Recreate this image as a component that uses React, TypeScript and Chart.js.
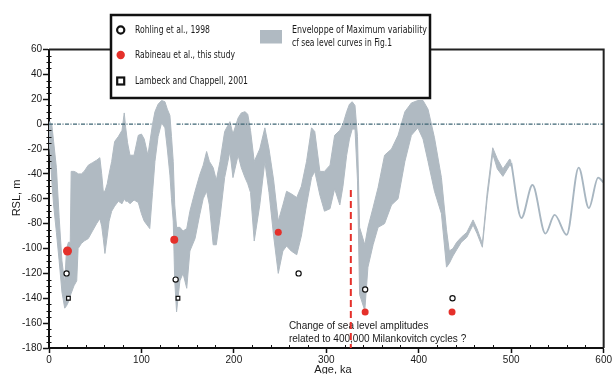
import React, { useEffect, useRef } from 'react';
import { Chart, registerables } from 'chart.js';

Chart.register(...registerables);

// Envelope of maximum sea-level variability (age in ka, RSL in m)
const envAge = [0, 1, 3, 5, 8, 11, 14, 17, 19, 21, 23, 24, 27, 30, 31.5, 35, 38, 42.5, 47, 51.5, 55, 57, 58.7, 60.5, 63, 65, 67.8, 71, 75, 79, 81.4, 83, 85, 87.6, 92, 96.6, 100, 103, 107, 109, 112, 114.6, 118, 121.8, 125.4, 128, 130.8, 132.5, 134.4, 136, 138, 141.6, 145, 149, 152.4, 158, 163, 166.8, 170.5, 173.5, 177.6, 181, 185, 190, 195.7, 199, 204.6, 208, 212, 215, 218, 222, 228, 233.5, 238, 243, 248, 253, 257, 262, 268, 273, 278.6, 284, 287.5, 293, 298, 304, 309, 314.6, 318, 322, 325, 328, 331, 333.7, 336, 341.6, 345, 350.6, 356, 363, 370.5, 377.6, 385, 392, 399, 404.6, 410, 417, 424.5, 430, 433, 437, 441, 446, 452, 458.7, 463, 468.8, 474, 480, 485, 491, 498.4, 500];
const envUpper = [2, 1, 0, -14, -35, -75, -110, -128, -100, -95, -95, -38, -38, -39, -40, -40, -38, -33, -31, -29, -27, -40, -54, -54, -48, -40, -30, -14, -10, -5, 9, -3, -15, -25, -25, -9, -8, -12, -25, -15, 0, 10, 16, 19, 18, 12, 7, -10, -30, -65, -83, -83, -86, -84, -70, -54, -41, -33, -22, -30, -35, -45, -30, -6, 2, -8, 5, 9, 10, 8, -5, -30, -20, -3, -20, -45, -78, -65, -54, -56, -59, -50, -30, -3, -6, -38, -38, -33, -9, -5, 0, 10, 16, 18, 15, -10, -83, -97, -83, -67, -51, -25, -20, -9, 10, 17, 19, 19, 12, -11, -43, -85, -102, -100, -95, -91, -87, -77, -84, -96, -55, -19, -28, -36, -28, -30];
const envLower = [-2, -20, -45, -65, -87, -110, -135, -148, -146, -143, -138, -136, -130, -126, -100, -96, -94, -92, -86, -80, -76, -82, -92, -104, -90, -78, -70, -66, -62, -64, -60, -62, -62, -64, -61, -63, -72, -78, -82, -84, -55, -30, -10, 1, -3, -20, -41, -60, -78, -126, -151, -126, -120, -132, -102, -92, -73, -60, -54, -65, -97, -97, -75, -43, -22, -43, -25, -35, -43, -48, -55, -94, -65, -30, -55, -90, -120, -102, -98, -102, -105, -90, -65, -43, -38, -57, -70, -68, -52, -65, -50, -25, -12, -4, -4, -45, -137, -150, -115, -97, -83, -80, -65, -60, -30, -9, -3, -12, -30, -54, -72, -115, -112, -106, -101, -95, -91, -81, -88, -99, -60, -24, -36, -42, -33, -34];

// Older part: single curve
const tailAge = [500, 511, 523, 537, 547, 560, 573, 584, 594, 600];
const tailRSL = [-31, -75.5, -49, -88, -73, -89, -35, -67.5, -43, -47];

// Point data
const rohlingAge = [19, 137, 270, 342, 436.5];
const rohlingRSL = [-120, -125, -120, -133, -140];
const rabineauAge = [20, 135.5, 248, 342, 436];
const rabineauRSL = [-102, -93, -87, -151, -151];
const lambeckAge = [21, 139.5];
const lambeckRSL = [-140, -140];

// Present sea level line (gap where hidden)
const zeroAge = [0, 111, 124, 138, 600];
const zeroRSL = [0, 0, null, 0, 0];

// Change of amplitude marker
const changeAge = [326.5, 326.5];
const changeRSL = [-53, -180];

const xTicks = [0, 100, 200, 300, 400, 500, 600];
const yTicks = [-180, -160, -140, -120, -100, -80, -60, -40, -20, 0, 20, 40, 60];

const GRAY = 'rgb(176,186,194)';
const RED = '#e5302a';

const pts = (xs: number[], ys: (number | null)[]) => xs.map((x, i) => ({ x, y: ys[i] }));

const decor = {
  id: 'decor',
  beforeDatasetsDraw(chart: any) {
    const { ctx, scales } = chart;
    const x = scales.x;
    ctx.save();
    ctx.fillStyle = '#1a1a1a';
    ctx.font = '10px "Liberation Sans", Arial, sans-serif';
    ctx.textAlign = 'left';
    ctx.textBaseline = 'middle';
    const tx = x.getPixelForValue(259.5);
    ctx.fillText('Change of sea level amplitudes', tx, 326);
    ctx.fillText('related to 400,000 Milankovitch cycles ?', tx, 339);
    ctx.restore();
  },
  afterDraw(chart: any) {
    const { ctx, chartArea, scales } = chart;
    const xs = scales.x, ys = scales.y;
    ctx.save();
    // frame top/right
    ctx.strokeStyle = '#222';
    ctx.lineWidth = 2;
    ctx.beginPath();
    ctx.moveTo(chartArea.left, chartArea.top);
    ctx.lineTo(chartArea.right, chartArea.top);
    ctx.lineTo(chartArea.right, chartArea.bottom);
    ctx.stroke();
    // minor ticks
    ctx.strokeStyle = '#111';
    ctx.lineWidth = 1;
    ctx.beginPath();
    for (let v = -180; v <= 60; v += 5) {
      if (v % 20 === 0) continue;
      const py = Math.round(ys.getPixelForValue(v)) + 0.5;
      ctx.moveTo(chartArea.left - 2.5, py);
      ctx.lineTo(chartArea.left + 2.5, py);
    }
    for (let v = 20; v < 600; v += 20) {
      if (v % 100 === 0) continue;
      const px = Math.round(xs.getPixelForValue(v)) + 0.5;
      ctx.moveTo(px, chartArea.bottom);
      ctx.lineTo(px, chartArea.bottom - 3);
    }
    ctx.stroke();
    // axis titles
    ctx.fillStyle = '#1a1a1a';
    ctx.font = '11px "Liberation Sans", Arial, sans-serif';
    ctx.textAlign = 'center';
    ctx.textBaseline = 'middle';
    ctx.fillText('Age, ka', 333, 370);
    ctx.save();
    ctx.translate(17, 198);
    ctx.rotate(-Math.PI / 2);
    ctx.fillText('RSL, m', 0, 0);
    ctx.restore();
    // legend box
    ctx.fillStyle = '#fff';
    ctx.fillRect(111, 15, 319, 83);
    ctx.strokeStyle = '#111';
    ctx.lineWidth = 2.5;
    ctx.strokeRect(111, 15, 319, 83);
    // markers
    ctx.lineWidth = 2.2;
    ctx.beginPath();
    ctx.arc(120.7, 30, 3.6, 0, Math.PI * 2);
    ctx.fillStyle = '#fff';
    ctx.fill();
    ctx.stroke();
    ctx.beginPath();
    ctx.arc(120.7, 55, 4.2, 0, Math.PI * 2);
    ctx.fillStyle = RED;
    ctx.fill();
    ctx.fillStyle = '#fff';
    ctx.fillRect(117.2, 77.5, 7, 7);
    ctx.strokeRect(117.2, 77.5, 7, 7);
    ctx.fillStyle = GRAY;
    ctx.fillRect(260, 30, 22, 13.5);
    // texts
    ctx.fillStyle = '#1a1a1a';
    ctx.font = '10.5px "Liberation Sans Narrow", "DejaVu Sans Condensed", "Liberation Sans", sans-serif';
    ctx.textAlign = 'left';
    ctx.textBaseline = 'middle';
    ctx.fillText('Rohling et al., 1998', 135, 30, 75);
    ctx.fillText('Rabineau et al., this study', 135, 55.5, 100);
    ctx.fillText('Lambeck and Chappell, 2001', 135, 81, 113);
    ctx.fillText('Enveloppe of Maximum variability', 292, 30.5, 135);
    ctx.fillText('cf sea level curves in Fig.1', 292, 43.5, 100);
    ctx.restore();
  },
};

export default function App() {
  const ref = useRef<HTMLCanvasElement | null>(null);
  useEffect(() => {
    if (!ref.current) return;
    const chart = new Chart(ref.current, {
      type: 'line',
      data: {
        datasets: [
          {
            label: 'Rabineau et al., this study',
            data: pts(rabineauAge, rabineauRSL),
            showLine: false,
            pointRadius: [4.5, 4, 3.5, 3.5, 3.5],
            pointBackgroundColor: RED,
            pointBorderWidth: 0,
            pointBorderColor: RED,
          },
          {
            label: 'Rohling et al., 1998',
            data: pts(rohlingAge, rohlingRSL),
            showLine: false,
            pointStyle: 'circle',
            pointRadius: 2.6,
            pointBorderWidth: 1.2,
            pointBorderColor: '#111',
            pointBackgroundColor: '#fff',
          },
          {
            label: 'Lambeck and Chappell, 2001',
            data: pts(lambeckAge, lambeckRSL),
            showLine: false,
            pointStyle: 'rect',
            pointRadius: 2.6,
            pointBorderWidth: 1.2,
            pointBorderColor: '#111',
            pointBackgroundColor: '#fff',
          },
          {
            label: 'change',
            data: pts(changeAge, changeRSL),
            borderColor: RED,
            borderWidth: 2,
            borderDash: [7, 4],
            pointRadius: 0,
          },
          {
            label: 'zero',
            data: pts(zeroAge, zeroRSL),
            borderColor: '#3d6473',
            borderWidth: 1.3,
            borderDash: [4, 1.5, 1, 1.5],
            pointRadius: 0,
            spanGaps: false,
          },
          {
            label: 'upper',
            data: pts(envAge, envUpper),
            borderColor: GRAY,
            borderWidth: 1,
            pointRadius: 0,
            fill: false,
            tension: 0,
          },
          {
            label: 'lower',
            data: pts(envAge, envLower),
            borderColor: GRAY,
            borderWidth: 1,
            backgroundColor: GRAY,
            pointRadius: 0,
            fill: '-1',
            tension: 0,
          },
          {
            label: 'tail',
            data: pts(tailAge, tailRSL),
            borderColor: 'rgb(168,182,193)',
            borderWidth: 1.9,
            pointRadius: 0,
            cubicInterpolationMode: 'monotone',
          },
        ],
      },
      options: {
        animation: false,
        responsive: false,
        maintainAspectRatio: false,
        layout: { padding: { top: 49.5, right: 9, left: 0, bottom: 0 } },
        plugins: { legend: { display: false }, tooltip: { enabled: false } },
        scales: {
          x: {
            type: 'linear',
            min: 0,
            max: 600,
            afterBuildTicks: (s: any) => { s.ticks = xTicks.map((v) => ({ value: v })); },
            ticks: { color: '#1a1a1a', font: { family: '"Liberation Sans", Arial', size: 10 }, padding: 1, maxRotation: 0 },
            grid: { drawOnChartArea: false, tickLength: 5, tickColor: '#111', tickWidth: 1.5 },
            border: { color: '#111', width: 2 },
            afterFit: (s: any) => { s.height = 26; },
          },
          y: {
            type: 'linear',
            min: -180,
            max: 60,
            afterBuildTicks: (s: any) => { s.ticks = yTicks.map((v) => ({ value: v })); },
            ticks: { color: '#1a1a1a', font: { family: '"Liberation Sans", Arial', size: 10 }, padding: 1 },
            grid: { drawOnChartArea: false, tickLength: 6, tickColor: '#111', tickWidth: 1.5 },
            border: { color: '#111', width: 2 },
            afterFit: (s: any) => { s.width = 49; },
          },
        },
      },
      plugins: [decor],
    });
    return () => chart.destroy();
  }, []);
  return (
    <div style={{ position: 'absolute', left: 0, top: 0, width: 613, height: 374, background: '#fff' }}>
      <canvas ref={ref} width={613} height={374} style={{ display: 'block' }} />
    </div>
  );
}
